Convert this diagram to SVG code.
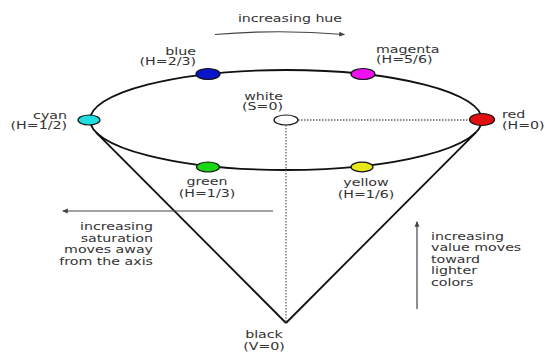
<svg xmlns="http://www.w3.org/2000/svg" width="545" height="354" viewBox="0 0 545 354">
<style>
text{font-family:"DejaVu Sans","Liberation Sans",sans-serif;font-size:10px;fill:#333}
.m{text-anchor:middle}.e{text-anchor:end}
.node{stroke:#111;stroke-width:1.2}
.edge{fill:none;stroke:#111;stroke-width:1.8}
.dot{fill:none;stroke:#666;stroke-width:1.3;stroke-dasharray:1.5 1.5}
.arr{fill:none;stroke:#444;stroke-width:1.2}
</style>
<defs>
<marker id="ah" viewBox="0 0 10 10" refX="8" refY="5" markerWidth="5" markerHeight="5" orient="auto">
<path d="M0,1 L10,5 L0,9 z" fill="#444"/>
</marker>
</defs>
<rect width="545" height="354" fill="#fff"/>
<g id="connectors">
<ellipse class="edge" cx="286" cy="120" rx="196" ry="50"/>
<line class="edge" x1="96" y1="132.3" x2="286" y2="323"/>
<line class="edge" x1="476" y1="132.3" x2="286" y2="323"/>
<line class="dot" x1="298" y1="120" x2="470" y2="120"/>
<line class="dot" x1="286" y1="125" x2="286" y2="322"/>
<path class="arr" d="M215,34.5 Q279,29 344,34.5" marker-end="url(#ah)"/>
<line class="arr" x1="273" y1="211" x2="63" y2="211" marker-end="url(#ah)"/>
<line class="arr" x1="417" y1="309" x2="417" y2="222" marker-end="url(#ah)"/>
</g>
<g id="hue-label"><text class="m" transform="translate(290 22) scale(1.42 1)">increasing hue</text></g>
<g id="blue"><ellipse class="node" cx="208" cy="74" rx="12" ry="5.5" fill="#0a14c8"/>
<text class="e" transform="translate(196 54.5) scale(1.42 1)"><tspan x="0">blue</tspan><tspan x="0" dy="11">(H=2/3)</tspan></text></g>
<g id="magenta"><ellipse class="node" cx="363" cy="74" rx="12" ry="5.5" fill="#f010f0"/>
<text transform="translate(376 52.5) scale(1.42 1)"><tspan x="0">magenta</tspan><tspan x="0" dy="11">(H=5/6)</tspan></text></g>
<g id="cyan"><ellipse class="node" cx="89" cy="120" rx="11" ry="5" fill="#20dde0"/>
<text class="e" transform="translate(67 118.5) scale(1.42 1)"><tspan x="0">cyan</tspan><tspan x="0" dy="11">(H=1/2)</tspan></text></g>
<g id="red"><ellipse class="node" cx="482" cy="119.5" rx="12.5" ry="6" fill="#e01010"/>
<text transform="translate(502 118) scale(1.42 1)"><tspan x="0">red</tspan><tspan x="0" dy="11">(H=0)</tspan></text></g>
<g id="white"><ellipse class="node" cx="286" cy="120" rx="12" ry="5" fill="#fff"/>
<text class="e" transform="translate(283 99.5) scale(1.42 1)"><tspan x="0">white</tspan><tspan x="0" dy="11">(S=0)</tspan></text></g>
<g id="green"><ellipse class="node" cx="208" cy="167" rx="11.5" ry="5" fill="#18d818"/>
<text class="m" transform="translate(207 185) scale(1.42 1)"><tspan x="0">green</tspan><tspan x="0" dy="12">(H=1/3)</tspan></text></g>
<g id="yellow"><ellipse class="node" cx="362" cy="167" rx="11" ry="4.8" fill="#e8e818"/>
<text class="m" transform="translate(366 186) scale(1.42 1)"><tspan x="0">yellow</tspan><tspan x="0" dy="12">(H=1/6)</tspan></text></g>
<g id="black"><text class="m" transform="translate(264 338) scale(1.42 1)"><tspan x="0">black</tspan><tspan x="0" dy="12">(V=0)</tspan></text></g>
<g id="saturation-label"><text class="e" transform="translate(153 230) scale(1.42 1)"><tspan x="0">increasing</tspan><tspan x="0" dy="11.7">saturation</tspan><tspan x="0" dy="11.7">moves away</tspan><tspan x="0" dy="11.7">from the axis</tspan></text></g>
<g id="value-label"><text transform="translate(431 240) scale(1.42 1)"><tspan x="0">increasing</tspan><tspan x="0" dy="11.5">value moves</tspan><tspan x="0" dy="11.5">toward</tspan><tspan x="0" dy="11.5">lighter</tspan><tspan x="0" dy="11.5">colors</tspan></text></g>
</svg>
